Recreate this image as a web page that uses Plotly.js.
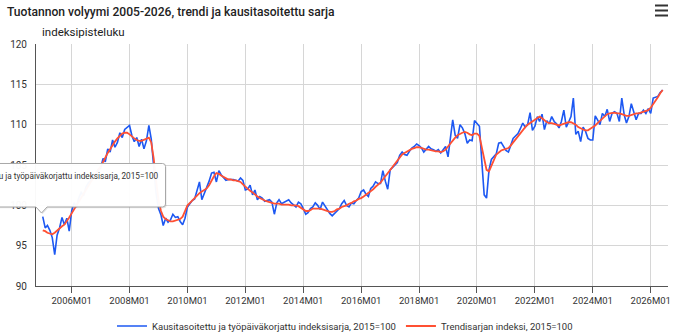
<!DOCTYPE html>
<html>
<head>
<meta charset="utf-8">
<script src="https://cdn.plot.ly/plotly-3.0.1.min.js"></script>
<style>
  html, body { margin: 0; padding: 0; background: #fff; }
  #chart { width: 690px; height: 336px; }
</style>
</head>
<body>
<div id="chart"></div>
<script>
// ---- Data (index 2015=100), monthly from 2005M01 ----
const startYear = 2005;
const startMonth = 1;

const seriesNames = [
  "Kausitasoitettu ja työpäiväkorjattu indeksisarja, 2015=100",
  "Trendisarjan indeksi, 2015=100"
];

const seasonallyAdjusted = [
  98.6, 97.2, 97.5, 96.9, 96.0, 93.9, 96.3, 97.2, 98.5, 97.6, 98.4, 96.8,
  99.3, 100.3, 99.8, 100.9, 101.6, 101.2, 102.3, 102.8, 103.1, 103.9, 103.5, 104.4,
  104.6, 105.8, 105.4, 107.0, 106.6, 108.1, 107.2, 107.8, 109.0, 108.4, 109.4, 109.7,
  109.9, 108.6, 107.9, 108.4, 107.3, 108.2, 107.0, 108.0, 109.9, 108.2, 104.5, 101.5,
  99.6, 98.8, 97.5, 98.4, 97.9, 98.2, 98.9, 98.5, 98.6, 98.0, 97.6, 98.4,
  99.8, 100.3, 100.6, 100.8, 101.9, 102.9, 100.7, 101.5, 102.1, 103.0, 104.0, 104.1,
  102.9, 104.3, 103.8, 103.4, 103.1, 103.2, 103.2, 103.2, 103.1, 103.0, 103.4, 103.1,
  101.9, 102.0, 102.5, 101.3, 101.9, 100.7, 101.1, 100.9, 100.5, 100.6, 100.7, 100.4,
  98.9, 100.3, 100.7, 100.2, 100.4, 100.5, 100.7, 100.3, 100.1, 99.8, 100.4, 100.2,
  99.6, 98.9, 99.1, 99.6, 99.8, 100.3, 100.0, 99.5, 100.4, 99.9, 99.4, 99.0,
  98.7, 99.0, 99.3, 99.6, 100.2, 100.6, 100.0, 99.8, 100.3, 100.2, 100.6, 100.9,
  101.7, 101.9, 101.4, 101.1, 102.1, 102.4, 102.9, 102.7, 102.7, 104.3, 103.0, 102.0,
  104.4, 104.7, 105.0, 105.3, 106.2, 106.6, 106.3, 106.2, 106.7, 107.1, 107.3, 107.6,
  107.4, 107.1, 106.6, 106.9, 107.3, 107.0, 106.9, 106.7, 106.9, 106.5, 106.9, 107.3,
  106.0, 108.2, 110.6, 108.7, 108.3, 110.0, 109.6, 108.9, 107.7, 108.1, 108.0, 110.5,
  110.2, 109.8, 105.6, 101.3, 100.9, 104.4, 105.7, 106.0, 106.4, 107.7, 107.8, 107.3,
  106.8, 106.6, 107.5, 108.3, 108.6, 108.9, 109.5, 110.2, 109.7, 110.0, 111.5, 109.3,
  109.8, 111.0, 110.4, 111.3, 109.4, 110.5, 110.1, 111.0, 110.4, 110.1, 109.6, 110.4,
  111.8, 109.7, 110.3, 111.0, 113.3, 108.8, 109.2, 107.9, 109.7, 109.2, 108.3, 108.1,
  108.1, 111.1, 110.6, 110.0, 111.4, 111.0, 111.9, 110.4, 111.4, 111.6, 111.4, 110.4,
  113.3, 111.2, 110.2, 111.0, 112.6, 111.4, 110.6, 111.4, 111.4, 111.8, 111.4, 112.0,
  111.4, 113.3, 113.4, 113.5, 114.0, 114.3
];

const trend = [
  96.9, 96.8, 96.6, 96.5, 96.4, 96.6, 96.9, 97.2, 97.4, 97.6, 98.0, 98.5,
  99.0, 99.5, 100.0, 100.5, 101.0, 101.5, 102.0, 102.5, 103.0, 103.5, 104.0, 104.4,
  104.8, 105.3, 105.9, 106.5, 107.0, 107.5, 107.9, 108.3, 108.6, 108.9, 109.0, 109.0,
  108.8, 108.5, 108.3, 108.1, 108.0, 108.0, 108.1, 108.3, 108.4, 107.8, 105.8, 103.0,
  100.6, 99.3, 98.6, 98.3, 98.1, 98.0, 98.0, 98.1, 98.2, 98.3, 98.6, 99.3,
  100.0, 100.3, 100.6, 100.9, 101.2, 101.5, 101.7, 101.9, 102.1, 102.5, 103.1, 103.6,
  104.0, 103.9, 103.7, 103.5, 103.3, 103.2, 103.2, 103.1, 103.1, 103.0, 102.9, 102.6,
  102.3, 102.0, 101.8, 101.6, 101.3, 101.1, 100.9, 100.7, 100.6, 100.5, 100.4, 100.3,
  100.2, 100.2, 100.2, 100.1, 100.1, 100.1, 100.1, 100.0, 100.0, 100.0, 99.9, 99.7,
  99.5, 99.3, 99.3, 99.4, 99.6, 99.6, 99.6, 99.6, 99.5, 99.4, 99.3, 99.2,
  99.2, 99.3, 99.5, 99.6, 99.8, 99.9, 100.0, 100.2, 100.3, 100.5, 100.6, 100.8,
  100.9, 101.1, 101.3, 101.5, 101.8, 102.0, 102.3, 102.5, 102.8, 103.2, 103.6, 104.0,
  104.4, 104.8, 105.2, 105.6, 106.0, 106.3, 106.5, 106.7, 106.9, 107.0, 107.1, 107.2,
  107.2, 107.1, 107.0, 106.9, 106.9, 106.8, 106.8, 106.7, 106.7, 106.6, 106.7, 106.9,
  107.3, 107.7, 108.1, 108.4, 108.7, 108.9, 109.0, 109.1, 109.0, 108.8, 108.7, 108.9,
  108.9, 108.6, 107.3, 105.5, 104.4, 104.2, 104.8, 105.6, 106.3, 106.6, 106.8, 106.9,
  107.0, 107.1, 107.4, 107.8, 108.2, 108.6, 108.9, 109.3, 109.7, 110.0, 110.2, 110.4,
  110.6, 110.9, 111.0, 110.8, 110.5, 110.3, 110.2, 110.2, 110.1, 110.0, 109.9, 110.0,
  110.1, 110.2, 110.3, 110.3, 110.2, 110.0, 109.7, 109.5, 109.4, 109.3, 109.3, 109.5,
  109.7, 109.9, 110.2, 110.5, 110.8, 111.1, 111.3, 111.4, 111.5, 111.5, 111.4, 111.4,
  111.3, 111.2, 111.1, 111.1, 111.2, 111.3, 111.4, 111.4, 111.5, 111.6, 111.7, 111.8,
  112.1, 112.5, 112.9, 113.4, 113.9, 114.3
];

const yTickValues = [90, 95, 100, 105, 110, 115, 120];

// month labels (categories) 2005M01 ...
function monthDates(n) {
  const out = [];
  for (let i = 0; i < n; i++) {
    const t = (startMonth - 1) + i;
    const y = startYear + Math.floor(t / 12);
    const m = (t % 12) + 1;
    out.push(y + "-" + String(m).padStart(2, "0") + "-01");
  }
  return out;
}
const months = monthDates(Math.max(seasonallyAdjusted.length, trend.length));

// ---- Styling ----
const BLUE = "#1d58f2";
const RED = "#ff5033";
const FONT = "Roboto, 'Noto Sans', sans-serif";

// plot area in pixels: x 36..668, y 44..286
const L = 36, R = 668, T = 44, B = 286;
const px = v => (v - L) / (R - L);
const py = v => (B - v) / (B - T);

const traces = [
  {
    x: months, y: seasonallyAdjusted, type: "scatter", mode: "lines",
    name: seriesNames[0],
    line: { color: BLUE, width: 1.6 },
    hoverinfo: "skip"
  },
  {
    x: months, y: trend, type: "scatter", mode: "lines",
    name: seriesNames[1],
    line: { color: RED, width: 1.8 },
    hoverinfo: "skip"
  }
];

// tooltip path (rounded box with pointer), in paper coords
function tooltipPath(dx, dy) {
  const x0 = -30 + dx, x1 = 165.5 + dx, y0 = 163.5 + dy, y1 = 207 + dy, r = 3;
  const P = (x, y) => px(x).toFixed(5) + "," + py(y).toFixed(5);
  let d = "M" + P(x0, y0);
  d += " L" + P(x1 - r, y0) + " Q" + P(x1, y0) + " " + P(x1, y0 + r);
  d += " L" + P(x1, y1 - r) + " Q" + P(x1, y1) + " " + P(x1 - r, y1);
  d += " L" + P(47 + dx, y1) + " L" + P(41.5 + dx, 213 + dy) + " L" + P(36 + dx, y1);
  d += " L" + P(x0, y1) + " Z";
  return d;
}

const shapes = [
  { type: "path", xref: "paper", yref: "paper", path: tooltipPath(1, 1.2),
    fillcolor: "rgba(0,0,0,0.10)", line: { width: 0 }, layer: "above" },
  { type: "path", xref: "paper", yref: "paper", path: tooltipPath(0, 0),
    fillcolor: "rgba(255,255,255,0.97)", line: { color: "#a8a8a8", width: 1 }, layer: "above" },
  // hamburger menu icon
  { type: "line", xref: "paper", yref: "paper", x0: px(655), x1: px(668), y0: py(5.5), y1: py(5.5), line: { color: "#333", width: 2 } },
  { type: "line", xref: "paper", yref: "paper", x0: px(655), x1: px(668), y0: py(10.5), y1: py(10.5), line: { color: "#333", width: 2 } },
  { type: "line", xref: "paper", yref: "paper", x0: px(655), x1: px(668), y0: py(15.5), y1: py(15.5), line: { color: "#333", width: 2 } }
];

const annotations = [
  {
    text: "indeksipisteluku", xref: "paper", yref: "paper",
    x: px(40), y: py(32), xanchor: "left", yanchor: "middle",
    showarrow: false, font: { family: FONT, size: 11.5, color: "#222" }
  },
  {
    text: seriesNames[0], xref: "paper", yref: "paper",
    x: px(161), y: py(176), xanchor: "right", yanchor: "middle",
    showarrow: false, font: { family: FONT, size: 8.2, color: "#333" }
  }
];

const layout = {
  width: 690, height: 336,
  margin: { l: L, r: 690 - R, t: T, b: 336 - B, pad: 0 },
  paper_bgcolor: "#fff", plot_bgcolor: "#fff",
  font: { family: FONT, size: 9.5, color: "#333" },
  title: {
    text: "Tuotannon volyymi 2005-2026, trendi ja kausitasoitettu sarja",
    x: 7 / 690, xanchor: "left", xref: "container",
    y: 1 - 12 / 336, yanchor: "middle", yref: "container",
    font: { family: FONT, size: 12.1, color: "#222", weight: 500 }
  },
  xaxis: {
    type: "date",
    range: ["2004-10-08", "2026-08-07"],
    tick0: "2006-01-01", dtick: "M24", tickformat: "%YM%m",
    showgrid: true, gridcolor: "#d6d6d6", gridwidth: 1,
    showline: true, linecolor: "#555", linewidth: 1,
    ticks: "outside", ticklen: 6, tickcolor: "#555", tickwidth: 1,
    tickfont: { family: FONT, size: 9.5, color: "#333" },
    zeroline: false, fixedrange: true
  },
  yaxis: {
    range: [90, 120],
    tickvals: yTickValues,
    showgrid: true, gridcolor: "#d6d6d6", gridwidth: 1,
    showline: true, linecolor: "#555", linewidth: 1,
    ticks: "", ticklabelstandoff: 6,
    tickfont: { family: FONT, size: 10, color: "#333" },
    zeroline: false, fixedrange: true
  },
  showlegend: true,
  legend: {
    orientation: "h", x: 0.5, xref: "container", xanchor: "center",
    y: 1 - 326 / 336, yref: "container", yanchor: "middle",
    font: { family: FONT, size: 9.5, color: "#333" },
    itemwidth: 30, tracegroupgap: 0, bgcolor: "rgba(0,0,0,0)"
  },
  shapes: shapes,
  annotations: annotations,
  hovermode: false
};

Plotly.newPlot("chart", traces, layout, { displayModeBar: false, staticPlot: true });
</script>
</body>
</html>
